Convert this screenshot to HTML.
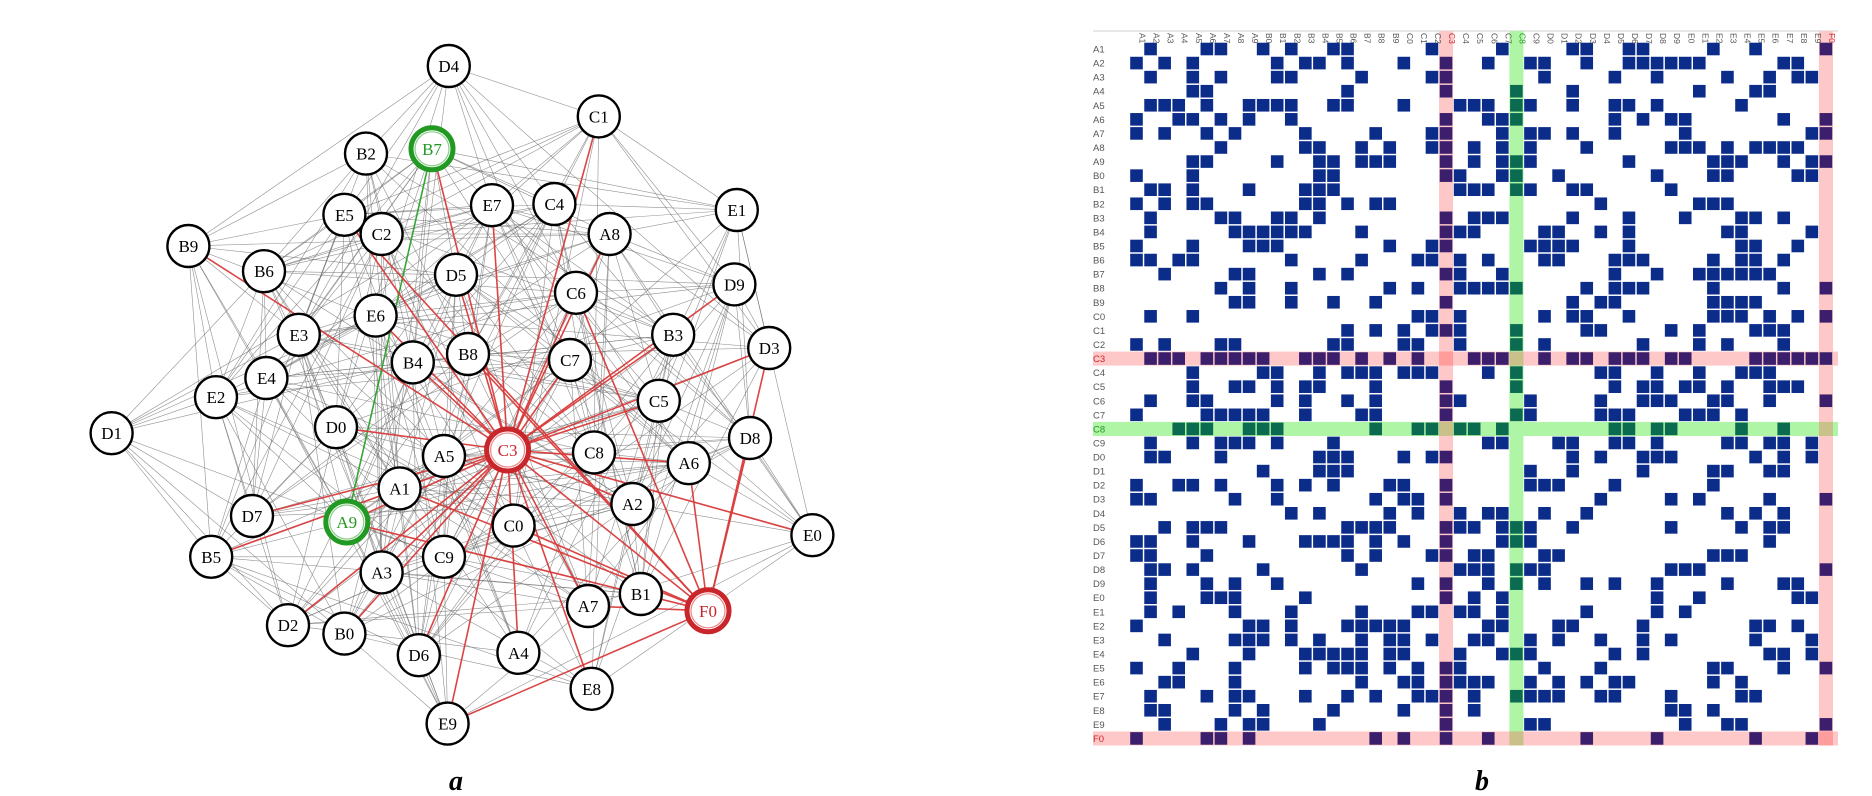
<!DOCTYPE html>
<html><head><meta charset="utf-8"><style>
html,body{margin:0;padding:0;background:#fff;width:1872px;height:796px;overflow:hidden}
svg{display:block}
</style></head><body>
<svg id="fig" width="1872" height="796" viewBox="0 0 1872 796" xmlns="http://www.w3.org/2000/svg">
<g id="net"></g>
<g id="mat"></g>
<text x="456" y="790" font-family="Liberation Serif, serif" font-style="italic" font-weight="bold" font-size="28" text-anchor="middle">a</text>
<text x="1482" y="790" font-family="Liberation Serif, serif" font-style="italic" font-weight="bold" font-size="28" text-anchor="middle">b</text>
</svg>
<script>
const nodeNames = ["A1","A2","A3","A4","A5","A6","A7","A8","A9","B0","B1","B2","B3","B4","B5","B6","B7","B8","B9","C0","C1","C2","C3","C4","C5","C6","C7","C8","C9","D0","D1","D2","D3","D4","D5","D6","D7","D8","D9","E0","E1","E2","E3","E4","E5","E6","E7","E8","E9","F0"];
const lowerAdj = [[],[0],[1],[],[1,2,3],[0,3,4],[0,2,5],[6],[4,5],[0,4],[1,2,4,8],[0,2,4,5],[1,6,7,10,11],[1,7,8,9,10,11,12],[0,4,8,9,10],[0,1,3,4,11],[2,7,8,13,15],[6,8,11],[7,8,11,14,17],[1,4],[15,17,19],[0,2,6,7,14,15,19,20],[1,2,3,5,6,7,8,9,12,13,14,16,18,20],[4,9,10,13,15,16,17,19,20,21],[4,7,8,10,12,13,17,22],[1,4,5,10,12,15,17,22,23],[0,5,6,7,8,9,12,16,17,22],[3,4,5,8,9,10,17,20,21,23,24,26],[1,4,6,7,8,10,14,25,26],[1,2,6,13,14,15,19,21,22],[9,13,14,15,28],[0,3,4,6,10,12,14,18,19,22,28,29,30],[0,1,7,10,17,19,20,22],[11,13,18,20,23,25,26,29,32],[2,4,5,6,15,16,17,18,22,23,24,26,27,28,31],[0,1,4,8,12,13,14,15,17,19,22,26,27,28],[0,1,5,15,17,21,22,24,25,29,30],[1,2,4,9,16,23,24,25,27,28,29],[1,5,7,10,20,22,25,27,29,32,34,37],[1,5,6,7,12,22,24,26,37],[1,3,7,11,16,20,21,23,24,26,32,37,39],[0,8,9,11,15,16,17,18,19,25,26,30,31,36],[2,7,8,9,11,13,16,18,19,21,24,25,28,30,33,36,38],[4,8,12,13,14,15,16,18,19,23,26,27,28,34,36],[0,3,7,12,14,15,16,18,20,22,23,29,33,41,42],[2,3,7,16,19,20,22,23,24,25,28,30,32,34,35,41,43],[1,5,7,8,12,15,17,20,21,22,24,27,28,29,30,33,34,38,43,44],[1,2,7,9,14,19,22,24,38,39,41],[2,6,8,9,13,22,28,29,39,42,43],[0,5,6,8,17,19,22,25,32,37,44,48]];
// layout (node-link diagram positions)
const nodeLayout = {A1:[333,407],A2:[527,420],A3:[318,477],A4:[432,544],A5:[370,380],A6:[574,386],A7:[490,505],A8:[508,195],A9:[289,435],B0:[287,528],B1:[534,495],B2:[305,128],B3:[561,279],B4:[344,302],B5:[176,464],B6:[220,226],B7:[360,124],B8:[390,295],B9:[157,205],C0:[428,438],C1:[499,97],C2:[318,195],C3:[423,375],C4:[462,170],C5:[549,334],C6:[480,244],C7:[475,300],C8:[495,377],C9:[370,464],D0:[280,356],D1:[93,361],D2:[240,521],D3:[641,290],D4:[374,55],D5:[380,229],D6:[349,546],D7:[210,430],D8:[625,365],D9:[612,237],E0:[677,446],E1:[614,175],E2:[180,331],E3:[249,279],E4:[222,315],E5:[287,179],E6:[313,263],E7:[410,171],E8:[493,574],E9:[373,603],F0:[590,509]};
const redNodes = ["C3","F0"];
const greenNodes = ["B7","A9"];

const NS="http://www.w3.org/2000/svg";
function mk(t,a,p){const e=document.createElementNS(NS,t);for(const k in a)e.setAttribute(k,a[k]);p.appendChild(e);return e;}
const N=nodeNames.length;
const adj=[];for(let i=0;i<N;i++){adj.push(new Array(N).fill(0));}
lowerAdj.forEach((l,i)=>l.forEach(j=>{adj[i][j]=1;adj[j][i]=1;}));
const redIdx=redNodes.map(n=>nodeNames.indexOf(n)), greenIdx=greenNodes.map(n=>nodeNames.indexOf(n));
const sc=1.2; const px=n=>nodeLayout[n][0]*sc, py=n=>nodeLayout[n][1]*sc;

// network
const net=document.getElementById('net');
const gE=mk('g',{},net);


const special=[];
for(let i=0;i<N;i++)for(let j=0;j<i;j++){ if(!adj[i][j])continue;
  const a=nodeNames[i],b=nodeNames[j];
  const isRed=redIdx.includes(i)||redIdx.includes(j);
  const isGreen=greenIdx.includes(i)&&greenIdx.includes(j);
  const attrs={x1:px(a),y1:py(a),x2:px(b),y2:py(b),stroke:isGreen?'#2aa02a':(isRed?'#d93a3a':'#6b6b6b'),'stroke-width':(isRed||isGreen)?1.6:0.6,'stroke-opacity':(isRed||isGreen)?0.95:0.75};
  if(isRed||isGreen){special.push(attrs);continue;}
  const l=mk('line',attrs,gE);
  
  
}
special.forEach(attrs=>{const l=mk('line',attrs,gE);
  
  });
nodeNames.forEach((n,i)=>{
  const g=mk('g',{},net);
  
  
  const red=redIdx.includes(i), green=greenIdx.includes(i);
  const col=red?'#c8262b':(green?'#229922':'#000');
  mk('circle',{cx:px(n),cy:py(n),r:21,fill:'#fff',stroke:col,'stroke-width':(red||green)?5:2.4},g);
  if(red||green) mk('circle',{cx:px(n),cy:py(n),r:17,fill:'none',stroke:red?'#e88':'#8c8','stroke-width':1.2},g);
  const t=mk('text',{x:px(n),y:py(n)+6,'text-anchor':'middle','font-family':'Liberation Serif, serif','font-size':17,fill:col},g);
  t.textContent=n;
});

// matrix
const mat=document.getElementById('mat');
const X0=1129.5,Y0=42,P=14.07,CS=12.6,LX=1093,RX=1838,TOP=31,BOT=Y0+N*P;
const mx=j=>X0+P*j, my=i=>Y0+P*i;
mk('line',{x1:LX,y1:TOP,x2:RX,y2:TOP,stroke:'#cfcfcf','stroke-width':1},mat);
const hlPink=redIdx, hlGreen=[nodeNames.indexOf('C8')];
hlPink.forEach(k=>{
  const r1=mk('rect',{x:mx(k),y:TOP,width:P,height:BOT-TOP,fill:'#ffc8c8'},mat);
  
  
  const r2=mk('rect',{x:LX,y:my(k),width:RX-LX,height:P,fill:'#ffc8c8'},mat);
  
  
});
hlGreen.forEach(k=>{
  const r1=mk('rect',{x:mx(k),y:TOP,width:P,height:BOT-TOP,fill:'#aef5a6'},mat);
  
  
  const r2=mk('rect',{x:LX,y:my(k),width:RX-LX,height:P,fill:'#aef5a6'},mat);
  
  
});
hlPink.forEach(a=>hlGreen.forEach(b=>{
  mk('rect',{x:mx(a),y:my(b),width:P,height:P,fill:'#c9c08a'},mat);
  mk('rect',{x:mx(b),y:my(a),width:P,height:P,fill:'#c9c08a'},mat);
}));
hlPink.forEach(a=>mk('rect',{x:mx(a),y:my(a),width:P,height:P,fill:'#ff9c9c'},mat));
for(let i=0;i<N;i++)for(let j=0;j<N;j++){ if(!adj[i][j])continue;
  const inP=hlPink.includes(i)||hlPink.includes(j), inG=hlGreen.includes(i)||hlGreen.includes(j);
  const c=mk('rect',{x:mx(j)+0.7,y:my(i)+0.7,width:CS,height:CS,fill:inP?'#3b1f6c':(inG?'#0b6b50':'#0c2c8a')},mat);
  
  
}
nodeNames.forEach((n,k)=>{
  const col=hlPink.includes(k)?'#c8262b':(hlGreen.includes(k)?'#229922':'#555');
  const t=mk('text',{x:LX,y:my(k)+10.5,'font-family':'Liberation Sans, sans-serif','font-size':9.5,fill:col},mat);
  t.textContent=n;
  
  
  const cx=mx(k)+P/2+3, cy=TOP+2;
  const h=mk('text',{x:cx,y:cy,'font-family':'Liberation Sans, sans-serif','font-size':8.5,fill:col,transform:'rotate(90 '+cx+' '+cy+')'},mat);
  h.textContent=n;
  
  
});
</script>
</body></html>
